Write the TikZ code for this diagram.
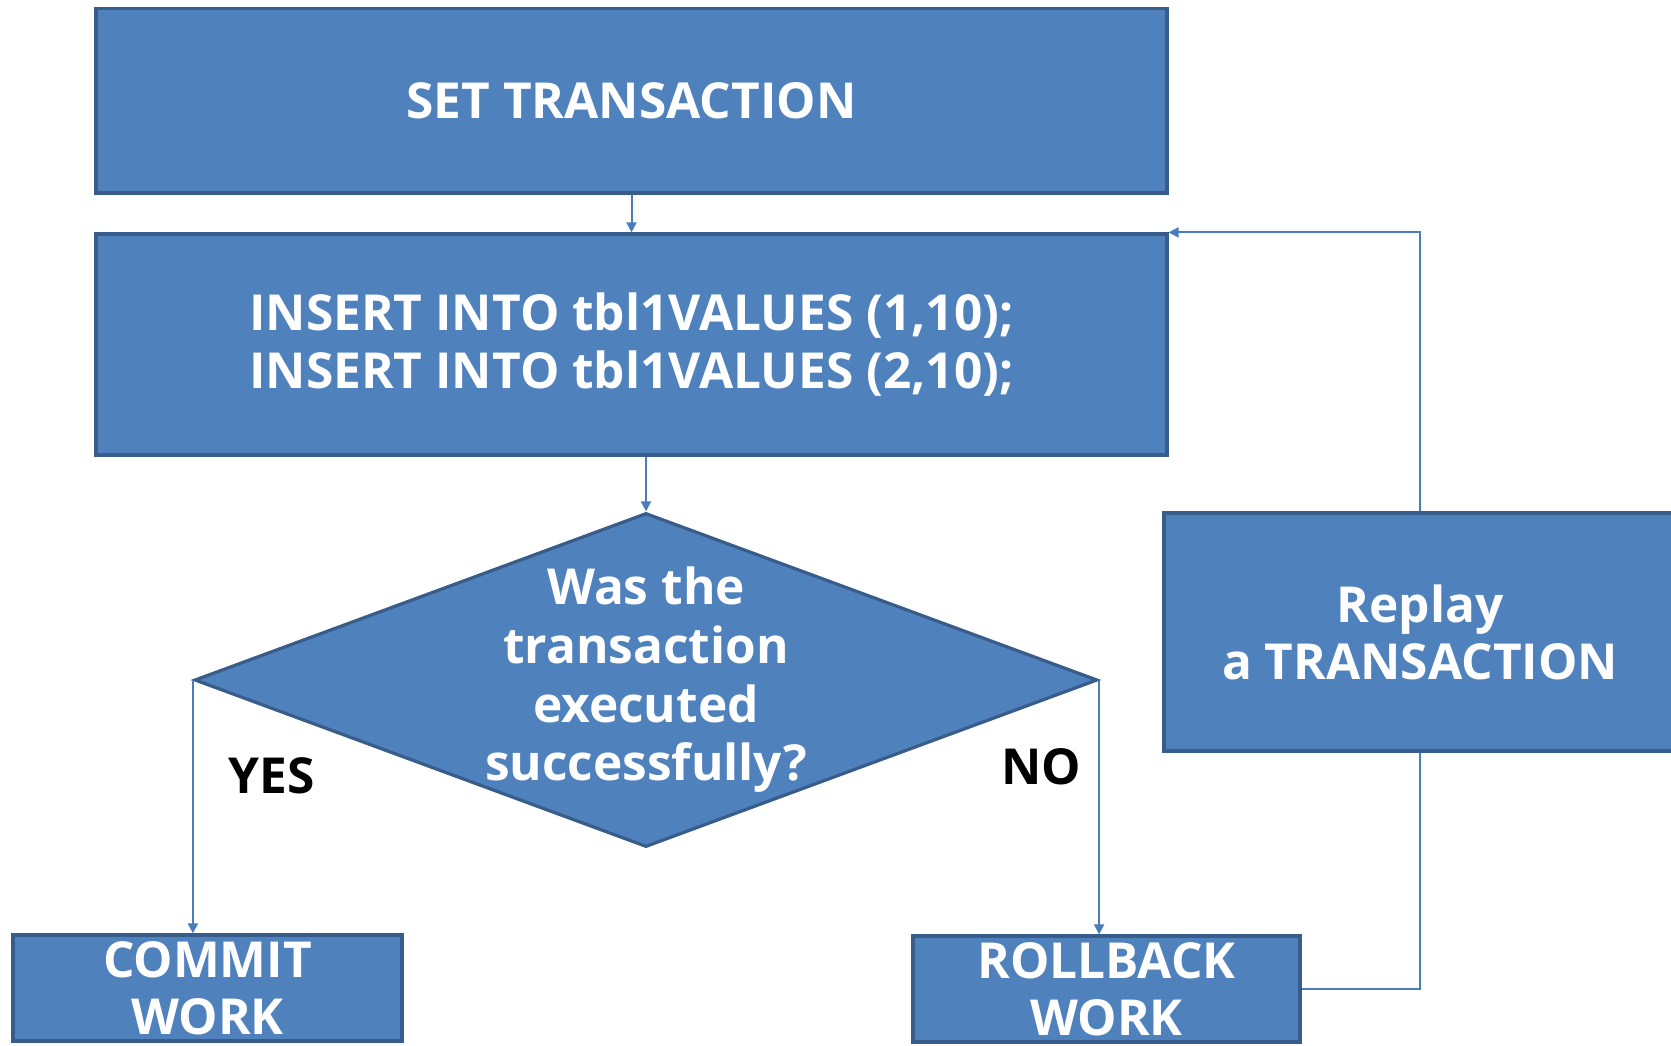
\documentclass[tikz,border=0pt]{standalone}
\usepackage{fontspec}
\setmainfont{Open Sans}
\usepackage{xcolor}
\usetikzlibrary{arrows.meta,shapes.geometric}

\definecolor{boxfill}{HTML}{4F81BD}
\definecolor{boxedge}{HTML}{385D8A}
\definecolor{linkcol}{HTML}{4A7EBB}

\begin{document}
\begin{tikzpicture}[x=0.5pt, y=-0.5pt,
    box/.style={draw=boxedge, fill=boxfill, line width=1.6pt, align=center,
                text=white, inner sep=0pt, font=\bfseries\fontsize{24.8}{28.6}\selectfont},
    decision/.style={diamond, draw=boxedge, fill=boxfill, line width=1.6pt,
                inner sep=0pt, minimum width=451.5pt, minimum height=167pt},
    qtext/.style={align=center, text=white, font=\bfseries\fontsize{24.8}{29.3}\selectfont},
    answer/.style={font=\bfseries\fontsize{24.8}{28.6}\selectfont},
    arr/.style={-{Triangle[length=5pt,width=5pt]}, draw=linkcol, line width=1pt},
    link/.style={draw=linkcol, line width=1pt}]
  \useasboundingbox (0,0) rectangle (1671,1045);
  \node[box, minimum width=535.5pt, minimum height=92.25pt] (set) at (631.5,100.75)
    {SET TRANSACTION};
  \node[box, minimum width=535.5pt, minimum height=110.5pt] (insert) at (631.5,344.5)
    {INSERT INTO tbl1VALUES (1,10);\\INSERT INTO tbl1VALUES (2,10);};
  \node[decision] (check) at (646,680) {};
  \node[qtext] (checktext) at (check.center)
    {Was the\\transaction\\executed\\successfully?};
  \node[box, minimum width=256pt, minimum height=119pt] (replay) at (1420,632)
    {Replay\\a TRANSACTION};
  \node[box, minimum width=194.5pt, minimum height=53pt] (commit) at (207.5,988)
    {COMMIT\\WORK};
  \node[box, minimum width=193.5pt, minimum height=53pt] (rollback) at (1106.5,989)
    {ROLLBACK\\WORK};
  \node[answer] (yes) at (272,776) {YES};
  \node[answer] (no) at (1041,767) {NO};
  % connectors
  \draw[arr] (set) -- (insert);
  \draw[arr] (check.north |- insert.south) -- (check.north);
  \draw[arr] (check.west) -- (check.west |- commit.north);
  \draw[arr] (check.east) -- (check.east |- rollback.north);
  \draw[link] (rollback.east) -| (replay.south);
  \draw[arr] (replay.north) |- (insert.north east);
\end{tikzpicture}
\end{document}
